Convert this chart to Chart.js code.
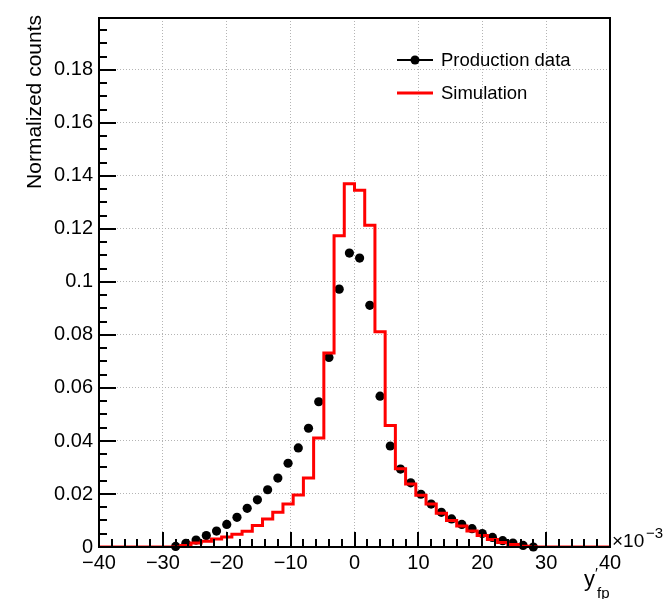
<!DOCTYPE html>
<html>
<head>
<meta charset="utf-8">
<script src="https://cdn.jsdelivr.net/npm/chart.js@4.4.1/dist/chart.umd.min.js"></script>
<style>
  html, body { margin: 0; padding: 0; background: #fff; }
  #wrap { width: 669px; height: 599px; }
</style>
</head>
<body>
<div id="wrap"><canvas id="c" width="669" height="599"></canvas></div>
<script>
// Histogram binning (50 bins from -40 to 40, x in units of 1e-3)
const binLow = -40;
const binWidth = 1.6;
const nBins = 50;

// Simulation histogram contents (normalized), bin by bin
const simCounts = [
  0, 0, 0, 0, 0, 0, 0, 0, 0.0006, 0.0015,
  0.0022, 0.0030, 0.0038, 0.0048, 0.0059, 0.0081, 0.0106, 0.0131, 0.0162, 0.0196,
  0.0260, 0.0411, 0.0732, 0.1174, 0.1371, 0.1346, 0.1214, 0.0812, 0.0458, 0.0295,
  0.0238, 0.0195, 0.0162, 0.0127, 0.0100, 0.0079, 0.0060, 0.0043, 0.0028, 0.0017,
  0.0009, 0.0003, 0, 0, 0, 0, 0, 0, 0, 0
];

// Production data (normalized), null = empty bin
const dataCounts = [
  null, null, null, null, null, null, null, 0.0002, 0.0014, 0.0026,
  0.0043, 0.0060, 0.0085, 0.0112, 0.0146, 0.0178, 0.0216, 0.0260, 0.0316, 0.0374,
  0.0448, 0.0548, 0.0715, 0.0973, 0.1109, 0.1090, 0.0912, 0.0569, 0.0381, 0.0294,
  0.0242, 0.0199, 0.0162, 0.0131, 0.0106, 0.0085, 0.0069, 0.0051, 0.0036, 0.0024,
  0.0015, 0.0006, 0.0000, null, null, null, null, null, null, null
];

const xTicks = [-40, -30, -20, -10, 0, 10, 20, 30, 40];
const yTicks = [0, 0.02, 0.04, 0.06, 0.08, 0.1, 0.12, 0.14, 0.16, 0.18];
const yMax = 0.1996;

const FONT = '"Liberation Sans", Arial, Helvetica, sans-serif';

// step outline points: one per bin low edge, plus closing edge
const simPoints = simCounts.map((v, k) => ({ x: binLow + k * binWidth, y: v }));
simPoints.push({ x: binLow + nBins * binWidth, y: simCounts[nBins - 1] });

const dataPoints = [];
dataCounts.forEach((v, k) => {
    if (v !== null) dataPoints.push({ x: binLow + (k + 0.5) * binWidth, y: v });
});

// ROOT-like frame, inward ticks, legend and axis titles
const rootDecor = {
    id: 'rootDecor',
    afterDraw(chart) {
        const { ctx, chartArea: a, scales } = chart;
        const xs = scales.x, ys = scales.y;
        ctx.save();
        ctx.strokeStyle = '#000';
        ctx.lineWidth = 2;

        // minor / major ticks on x (every 2, major every 10)
        ctx.beginPath();
        for (let v = -40; v <= 40; v += 2) {
            const px = Math.round(xs.getPixelForValue(v));
            const len = (v % 10 === 0) ? 15 : 8;
            ctx.moveTo(px, a.bottom);
            ctx.lineTo(px, a.bottom - len);
        }
        // y ticks (every 0.005, major every 0.02)
        for (let i = 0; i * 0.005 <= yMax + 1e-9; i++) {
            const py = Math.round(ys.getPixelForValue(i * 0.005));
            const len = (i % 4 === 0) ? 17 : 8;
            ctx.moveTo(a.left, py);
            ctx.lineTo(a.left + len, py);
        }
        ctx.stroke();

        ctx.strokeRect(a.left, a.top, a.right - a.left, a.bottom - a.top);

        // legend
        ctx.lineWidth = 2;
        ctx.strokeStyle = '#000';
        ctx.beginPath();
        ctx.moveTo(397, 60); ctx.lineTo(433, 60);
        ctx.stroke();
        ctx.fillStyle = '#000';
        ctx.beginPath();
        ctx.arc(415, 60, 4.5, 0, Math.PI * 2);
        ctx.fill();
        ctx.strokeStyle = '#ff0000';
        ctx.lineWidth = 3;
        ctx.beginPath();
        ctx.moveTo(397, 93); ctx.lineTo(433, 93);
        ctx.stroke();
        ctx.fillStyle = '#000';
        ctx.font = '18.5px ' + FONT;
        ctx.textBaseline = 'middle';
        ctx.textAlign = 'left';
        ctx.fillText('Production data', 441, 61);
        ctx.fillText('Simulation', 441, 94);

        // y title
        ctx.save();
        ctx.translate(41, 15);
        ctx.rotate(-Math.PI / 2);
        ctx.font = '21px ' + FONT;
        ctx.textAlign = 'right';
        ctx.textBaseline = 'alphabetic';
        ctx.fillText('Normalized counts', 0, 0);
        ctx.restore();

        // x title y'_fp
        ctx.textBaseline = 'alphabetic';
        ctx.font = '22px ' + FONT;
        ctx.fillText('y', 584, 586);
        ctx.font = '15px ' + FONT;
        ctx.fillText('\u2032', 595, 578);
        ctx.fillText('fp', 597, 598);

        // exponent label
        ctx.font = '19px ' + FONT;
        ctx.fillText('\u00d710', 612, 547);
        ctx.font = '15px ' + FONT;
        ctx.fillText('\u22123', 646, 538);
        ctx.restore();
    }
};

new Chart(document.getElementById('c'), {
    data: {
        datasets: [
            {
                type: 'line',
                label: 'Simulation',
                data: simPoints,
                stepped: 'before',
                borderColor: '#ff0000',
                borderWidth: 3,
                pointRadius: 0,
                fill: false,
                order: 0
            },
            {
                type: 'scatter',
                label: 'Production data',
                data: dataPoints,
                pointRadius: 4.6,
                pointBackgroundColor: '#000',
                pointBorderColor: '#000',
                pointBorderWidth: 0,
                clip: false,
                order: 1
            }
        ]
    },
    options: {
        responsive: false,
        animation: false,
        events: [],
        layout: { padding: { left: 0, top: 9, right: 59, bottom: 0 } },
        scales: {
            x: {
                type: 'linear',
                min: -40,
                max: 40,
                afterFit: (s) => { s.height = 52; },
                afterBuildTicks: (s) => { s.ticks = xTicks.map(v => ({ value: v })); },
                ticks: {
                    padding: 4,
                    color: '#000',
                    font: { family: FONT, size: 20 },
                    maxRotation: 0,
                    callback: (v) => v < 0 ? '\u2212' + Math.abs(v) : String(v)
                },
                grid: { color: '#b4b4b4', lineWidth: 1, drawTicks: false },
                border: { display: false, dash: [1, 2] }
            },
            y: {
                type: 'linear',
                min: 0,
                max: yMax,
                afterFit: (s) => { s.width = 99; },
                afterBuildTicks: (s) => { s.ticks = yTicks.map(v => ({ value: v })); },
                ticks: {
                    padding: 6,
                    color: '#000',
                    font: { family: FONT, size: 20 },
                    callback: (v) => String(+v.toFixed(3))
                },
                grid: { color: '#b4b4b4', lineWidth: 1, drawTicks: false },
                border: { display: false, dash: [1, 2] }
            }
        },
        plugins: {
            legend: { display: false },
            tooltip: { enabled: false }
        }
    },
    plugins: [rootDecor]
});
</script>
</body>
</html>
